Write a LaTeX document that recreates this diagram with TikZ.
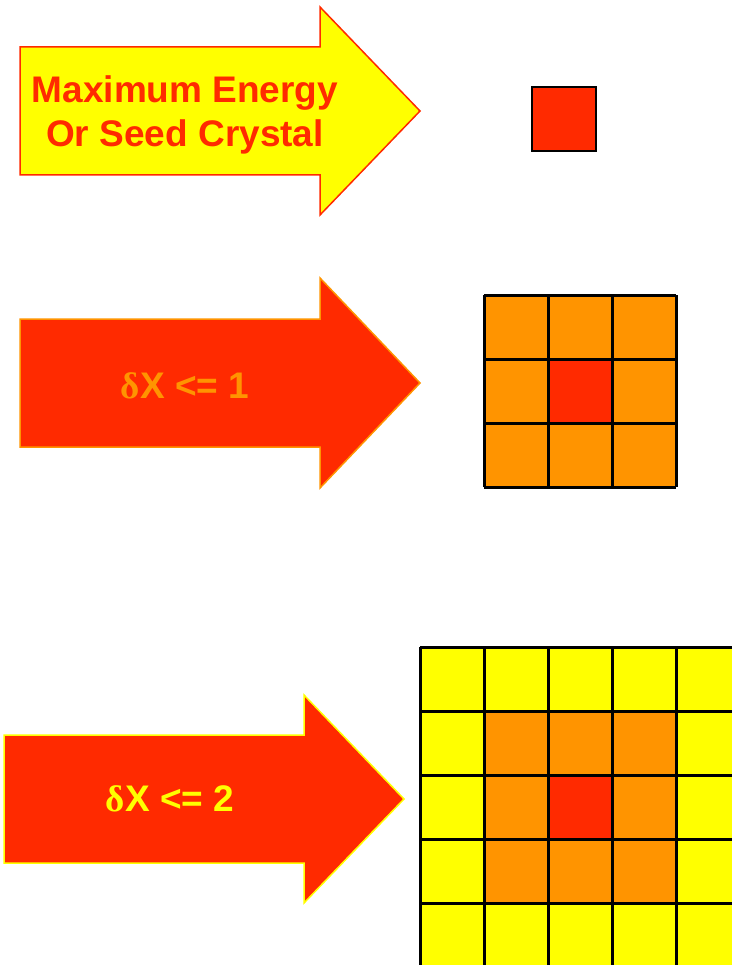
\documentclass[tikz,border=0pt]{standalone}
\usepackage{fontspec}
\setmainfont{Liberation Sans}
\newfontfamily\greekfont{Liberation Serif}
\usetikzlibrary{positioning, calc}

\definecolor{seedred}{HTML}{FF2A00}
\definecolor{ringorange}{HTML}{FF9400}
\definecolor{ringyellow}{HTML}{FFFF00}

\begin{document}
\begin{tikzpicture}[
x=1pt, y=1pt,
    bigarrow/.style={line width=1.5pt, line join=miter},
    label/.style={font=\fontsize{37}{44}\selectfont\bfseries, align=center, inner sep=0pt},
    cellgrid/.style={line width=3pt, black}
]
    \useasboundingbox (0,0) rectangle (731,-965);

    % Arrows
    \draw[bigarrow, fill=ringyellow, draw=seedred] (20,-47) -- (320,-47) -- (320,-7) -- (420,-111)
        -- (320,-215) -- (320,-175) -- (20,-175) -- cycle;
    \draw[bigarrow, fill=seedred, draw=ringorange] (20,-319) -- (320,-319) -- (320,-278) -- (420,-383)
        -- (320,-488) -- (320,-447) -- (20,-447) -- cycle;
    \draw[bigarrow, fill=seedred, draw=ringyellow] (4,-735) -- (304,-735) -- (304,-695) -- (404,-799)
        -- (304,-903) -- (304,-863) -- (4,-863) -- cycle;

    % Arrow texts
    \node[label, text=seedred] (seed) at (185,-115) {Maximum Energy\\Or Seed Crystal};
    \node[label, text=ringorange] (dxone) at (185,-386) {{\greekfont δ}X <= 1};
    \node[label, text=ringyellow] (dxtwo) at (170,-799) {{\greekfont δ}X <= 2};

    % Seed cell
    \draw[line width=2pt, fill=seedred] (532,-87) rectangle (596,-151);

    % 3x3 block
    \fill[ringorange] (484,-295) rectangle (676,-487);
    \fill[seedred] (548,-359) rectangle (612,-423);
    \draw[cellgrid, shift={(484,-487)}] (0,0) grid[step=64pt] (192,192);

    % 5x5 block
    \fill[ringyellow] (420,-647) rectangle (740,-967);
    \fill[ringorange] (484,-711) rectangle (676,-903);
    \fill[seedred] (548,-775) rectangle (612,-839);
    \draw[cellgrid, shift={(420,-967)}] (0,0) grid[step=64pt] (320,320);

\end{tikzpicture}
\end{document}
